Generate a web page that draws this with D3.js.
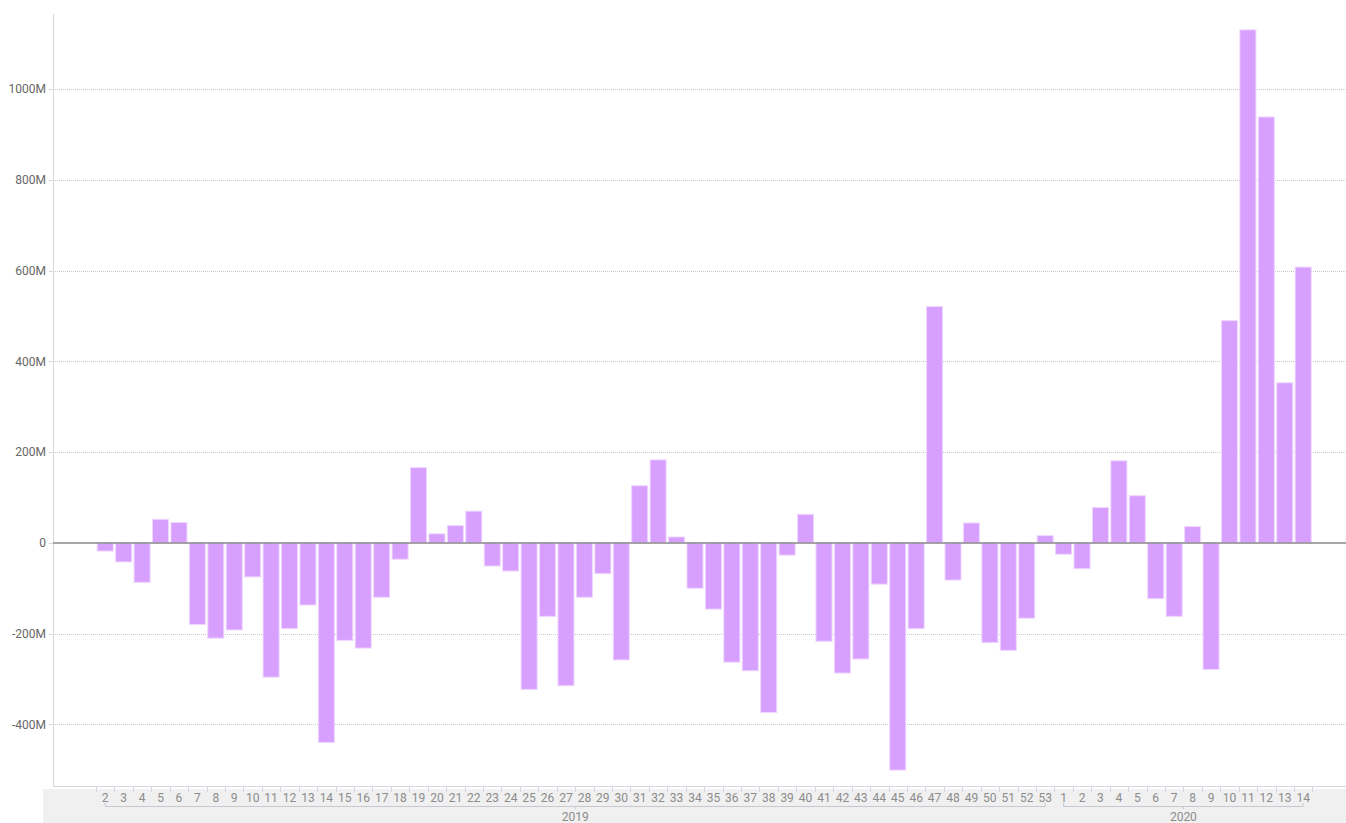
<!DOCTYPE html>
<html>
<head>
<meta charset="utf-8">
<script src="https://cdn.jsdelivr.net/npm/d3@7"></script>
<style>
	body { margin: 0; background: #fff; }
	svg { display: block; font-family: Roboto, "Open Sans", sans-serif; }
</style>
</head>
<body>
<svg id="svgChart" width="1346" height="823"></svg>
<script>
// Chart data (values in millions)
var years = ["2019", "2020"];
var weeks2019 = d3.range(2, 54);
var values2019 = [-18, -42, -87, 52, 45, -180, -210, -192, -75, -296, -189, -137, -440, -215, -232, -120, -36,
	166, 20, 38, 70, -51, -62, -323, -162, -315, -120, -68, -258, 126, 183, 13, -100, -146, -263, -282, -374, -27, 63,
	-217, -287, -256, -91, -501, -189, 521, -82, 44, -220, -237, -166, 16];
var weeks2020 = d3.range(1, 15);
var values2020 = [-25, -57, 78, 181, 104, -123, -162, 36, -279, 490, 1131, 939, 353, 608];
var yTicks = [-400, -200, 0, 200, 400, 600, 800, 1000];
var yDomain = [-536, 1166];

// Chart parameters
var ch = { "width": 1346, "height": 823, "barColor": "#d8a0fe", "barStroke": "#efd6ff" };

ch.draw = () => {
	let svg = d3.select("#svgChart");

	// Flatten data
	let data = [];
	weeks2019.forEach((w, i) => data.push({ year: years[0], week: w, key: years[0] + "-" + w, value: values2019[i] }));
	weeks2020.forEach((w, i) => data.push({ year: years[1], week: w, key: years[1] + "-" + w, value: values2020[i] }));

	let margin = { left: 53, top: 14, bottom: 786 };
	let x = d3.scaleBand()
		.domain(data.map((d) => d.key))
		.range([96, 1312.4])
		.paddingInner(0.13)
		.paddingOuter(0.065);
	let y = d3.scaleLinear()
		.domain(yDomain)
		.range([margin.bottom, margin.top]);

	// Bottom grey band
	svg.append("rect")
		.attr("x", 43).attr("y", 789)
		.attr("width", ch.width - 43).attr("height", ch.height - 789)
		.attr("fill", "#f0f0f0");

	// Grid lines
	svg.append("g").selectAll("line")
		.data(yTicks.filter((t) => t != 0))
		.enter()
		.append("line")
		.attr("x1", margin.left).attr("x2", ch.width)
		.attr("y1", (t) => Math.round(y(t)) + 0.5).attr("y2", (t) => Math.round(y(t)) + 0.5)
		.attr("stroke", "#c8c8c8")
		.attr("stroke-dasharray", "1,1");

	// Y axis line and labels
	svg.append("line")
		.attr("x1", margin.left + 0.5).attr("x2", margin.left + 0.5)
		.attr("y1", margin.top).attr("y2", margin.bottom)
		.attr("stroke", "#d6d6de");
	svg.append("g").selectAll("text")
		.data(yTicks)
		.enter()
		.append("text")
		.attr("x", 46)
		.attr("y", (t) => y(t))
		.attr("dy", "0.35em")
		.attr("text-anchor", "end")
		.style("font-size", "12px")
		.style("fill", "#666")
		.text((t) => t == 0 ? "0" : t + "M");
	svg.append("g").selectAll("line")
		.data(yTicks)
		.enter()
		.append("line")
		.attr("x1", 49).attr("x2", margin.left)
		.attr("y1", (t) => Math.round(y(t)) + 0.5).attr("y2", (t) => Math.round(y(t)) + 0.5)
		.attr("stroke", "#d6d6de");

	// Bars
	svg.append("g").selectAll("rect")
		.data(data)
		.enter()
		.append("rect")
		.attr("x", (d) => x(d.key))
		.attr("width", x.bandwidth())
		.attr("y", (d) => y(Math.max(0, d.value)))
		.attr("height", (d) => Math.abs(y(d.value) - y(0)))
		.attr("fill", ch.barColor)
		.attr("stroke", ch.barStroke)
		.attr("stroke-width", 1);

	// Zero line
	svg.append("line")
		.attr("x1", margin.left).attr("x2", ch.width)
		.attr("y1", y(0)).attr("y2", y(0))
		.attr("stroke", "#8a8a8a")
		.attr("stroke-width", 1.5);

	// X axis line and band ticks
	svg.append("line")
		.attr("x1", margin.left).attr("x2", ch.width)
		.attr("y1", margin.bottom + 0.5).attr("y2", margin.bottom + 0.5)
		.attr("stroke", "#d6d6de");
	let step = x.step();
	let edges = data.map((d) => x(d.key) - step * x.paddingInner() / 2);
	edges.push(edges[edges.length - 1] + step);
	svg.append("g").selectAll("line")
		.data(edges)
		.enter()
		.append("line")
		.attr("x1", (e) => Math.round(e) + 0.5).attr("x2", (e) => Math.round(e) + 0.5)
		.attr("y1", margin.bottom).attr("y2", margin.bottom + 6)
		.attr("stroke", "#d6d6de");

	// Week labels
	svg.append("g").selectAll("text")
		.data(data)
		.enter()
		.append("text")
		.attr("x", (d) => x(d.key) + x.bandwidth() / 2)
		.attr("y", 802)
		.attr("text-anchor", "middle")
		.style("font-size", "12px")
		.style("fill", "#8c8c8c")
		.text((d) => d.week);

	// Year brackets and labels
	years.forEach((yr) => {
		let items = data.filter((d) => d.year == yr);
		let x0 = x(items[0].key) + x.bandwidth() / 2;
		let x1 = x(items[items.length - 1].key) + x.bandwidth() / 2;
		let xm = (x0 + x1) / 2;
		svg.append("path")
			.attr("d", "M" + x0 + ",803V806.5H" + x1 + "V803M" + xm + ",806.5V809")
			.attr("fill", "none")
			.attr("stroke", "#c8c8d0");
		svg.append("text")
			.attr("x", xm)
			.attr("y", 821)
			.attr("text-anchor", "middle")
			.style("font-size", "12px")
			.style("fill", "#8c8c8c")
			.text(yr);
	});
}

ch.draw();
</script>
</body>
</html>
